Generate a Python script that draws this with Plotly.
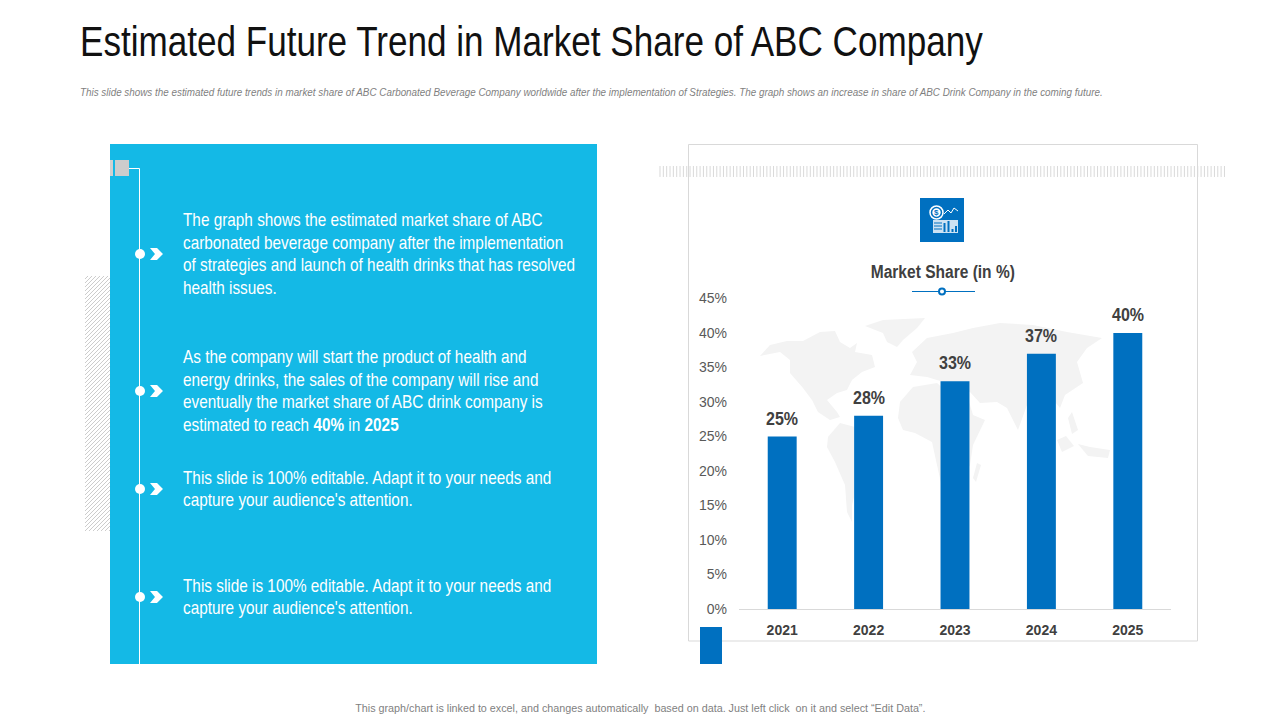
import json
import plotly.graph_objects as go

years = ['2021', '2022', '2023', '2024', '2025']
market_share = [25, 28, 33, 37, 40]
y_ticks = [0, 5, 10, 15, 20, 25, 30, 35, 40, 45]

title_text = 'Estimated Future Trend in Market Share of ABC Company'
subtitle_text = ('This slide shows the estimated future trends in market share of ABC Carbonated Beverage '
                 'Company worldwide after the implementation of Strategies. The graph shows an increase '
                 'in share of ABC Drink Company in the coming future.')
footer_text = ('This graph/chart is linked to excel, and changes automatically\u00a0 based on data. '
               'Just left click\u00a0 on it and select \u201cEdit Data\u201d.')
chart_title = 'Market Share (in %)'
bullets = [
    ['The graph shows the estimated market share of ABC',
     'carbonated beverage company after the implementation',
     'of strategies and launch of health drinks that has resolved',
     'health issues.'],
    ['As the company will start the product of health and',
     'energy drinks, the sales of the company will rise and',
     'eventually the market share of ABC drink company is',
     'estimated to reach <b>40%</b> in <b>2025</b>'],
    ['This slide is 100% editable. Adapt it to your needs and',
     'capture your audience\'s attention.'],
    ['This slide is 100% editable. Adapt it to your needs and',
     'capture your audience\'s attention.'],
]
bullet_y = [254, 391, 489, 597]

FONT = 'Liberation Sans'
CYAN = '#14B9E6'
BLUE = '#0070C0'
W, H = 1280, 720


def px(x):
    return x / W


def py(y):
    return 1 - y / H


def rect(x0, y0, x1, y1, fill, line=None, layer='below'):
    return dict(type='rect', xref='paper', yref='paper', x0=px(x0), y0=py(y0), x1=px(x1), y1=py(y1),
                fillcolor=fill, line=dict(color=line or fill, width=1 if line else 0), layer=layer)


def seg(x0, y0, x1, y1, color, width=1, layer='below'):
    return dict(type='line', xref='paper', yref='paper', x0=px(x0), y0=py(y0), x1=px(x1), y1=py(y1),
                line=dict(color=color, width=width), layer=layer)


def circle(cx, cy, r, fill, line=None, width=0, layer='above'):
    return dict(type='circle', xref='paper', yref='paper', x0=px(cx - r), y0=py(cy + r), x1=px(cx + r), y1=py(cy - r),
                fillcolor=fill, line=dict(color=line or fill, width=width), layer=layer)


def poly(points, fill, line=None, width=0, closed=True, layer='below'):
    d = 'M' + ' L'.join(f'{px(x):.5f},{py(y):.5f}' for x, y in points)
    if closed:
        d += ' Z'
    return dict(type='path', xref='paper', yref='paper', path=d, fillcolor=fill if closed else 'rgba(0,0,0,0)',
                line=dict(color=line or fill, width=width), layer=layer)


def label(x, y, text, size, color, anchor='left'):
    return dict(xref='paper', yref='paper', x=px(x), y=py(y), text=text, showarrow=False,
                xanchor=anchor, yanchor='middle', align=anchor, borderpad=0,
                font=dict(family=FONT, size=size, color=color))


# rough world silhouette behind the bars, outlines in reference pixels
map_outlines = [
    [(760, 356), (770, 345), (787, 341), (803, 341), (820, 332), (835, 331), (840, 342), (850, 348), (857, 343),
     (855, 352), (872, 355), (875, 367), (862, 372), (852, 380), (847, 390), (837, 393), (827, 400), (837, 412),
     (840, 417), (830, 420), (818, 412), (812, 400), (803, 388), (790, 373), (790, 360), (780, 352)],
    [(865, 326), (883, 320), (925, 318), (917, 328), (903, 340), (897, 347), (887, 342), (883, 333)],
    [(828, 437), (840, 423), (855, 427), (875, 440), (872, 453), (865, 470), (857, 485), (852, 505), (852, 522),
     (847, 512), (845, 485), (835, 462), (827, 447)],
    [(898, 418), (900, 402), (913, 387), (937, 383), (947, 392), (967, 395), (973, 415), (985, 420), (973, 445),
     (970, 465), (957, 488), (943, 492), (937, 465), (932, 442), (915, 433), (903, 430)],
    [(977, 463), (981, 465), (976, 482), (973, 478)],
    [(912, 352), (927, 338), (953, 333), (973, 328), (1000, 323), (1033, 325), (1067, 332), (1102, 338), (1087, 348),
     (1077, 362), (1083, 383), (1065, 395), (1060, 408), (1052, 398), (1043, 398), (1027, 405), (1018, 430),
     (1007, 408), (997, 402), (980, 403), (970, 392), (947, 383), (927, 377), (910, 375), (917, 362)],
    [(1057, 440), (1066, 436), (1074, 446), (1062, 452)],
    [(1078, 444), (1090, 447), (1110, 450), (1108, 458), (1088, 456)],
    [(1068, 418), (1072, 412), (1078, 430), (1072, 434)],
]

shapes = []
shapes.append(rect(110, 144, 597, 664, CYAN))
shapes.append(rect(688.5, 144.5, 1197.5, 641, 'white', line='#D9D9D9'))
shapes.append(rect(700, 627, 722, 664, BLUE, layer='above'))

# hatched block left of the panel
hatch = ''
for i in range(-64, 64):
    xa, ya = 85, 531 - i * 4.0
    xb, yb = 110, 506 - i * 4.0
    if ya <= 276 or yb >= 531:
        continue
    if ya > 531:
        xa, ya = 85 + (ya - 531), 531
    if yb < 276:
        xb, yb = 110 - (276 - yb), 276
    hatch += f'M{px(xa):.5f},{py(ya):.5f} L{px(xb):.5f},{py(yb):.5f} '
shapes.append(dict(type='path', xref='paper', yref='paper', path=hatch, line=dict(color='#CCCCCC', width=1), layer='below'))

# striped band across the chart card
stripes = ''
x_pos = 660.0
while x_pos <= 1226:
    stripes += f'M{px(x_pos):.5f},{py(166):.5f} L{px(x_pos):.5f},{py(177):.5f} '
    x_pos += 3.34
shapes.append(dict(type='path', xref='paper', yref='paper', path=stripes, line=dict(color='#D9D9D9', width=1), layer='below'))

for outline in map_outlines:
    shapes.append(poly(outline, '#F3F3F3'))

# timeline on the panel
shapes.append(rect(110, 160, 113, 176, '#D0D0D0', layer='above'))
shapes.append(rect(115, 160, 129, 176, '#CCCCCC', layer='above'))
shapes.append(seg(129, 168.5, 139.5, 168.5, 'white', layer='above'))
shapes.append(seg(139.5, 168.5, 139.5, 664, 'white', layer='above'))
for by in bullet_y:
    shapes.append(circle(140, by, 5, 'white'))
    shapes.append(poly([(150, by - 6), (157, by - 6), (163, by), (157, by + 6), (150, by + 6), (155, by)], 'white', layer='above'))

# icon
shapes.append(rect(920, 198, 964, 242, BLUE, layer='above'))
shapes.append(circle(936.5, 212.5, 6.5, 'rgba(0,0,0,0)', line='white', width=1.5))
shapes.append(circle(936.5, 212.5, 4.2, 'white'))
shapes.append(poly([(944, 214), (948, 210), (951, 213), (954, 208), (958, 211)], 'white', line='white', width=1, closed=False, layer='above'))
shapes.append(rect(933, 220, 958, 233, 'rgba(255,255,255,0.8)', layer='above'))
for ly in [223, 226, 229]:
    shapes.append(seg(934, ly, 942, ly, BLUE, layer='above'))
for bx, btop in [(943.5, 223), (947.5, 221), (951.5, 229), (955, 226)]:
    shapes.append(rect(bx, btop, bx + 2, 232, BLUE, layer='above'))

# title ornament
shapes.append(seg(912, 291.5, 975, 291.5, BLUE, layer='above'))
shapes.append(circle(942, 291.5, 3, 'white', line=BLUE, width=2))

# the source slide uses horizontally squeezed type, squeeze holds the x scale per annotation
annotations = [
    label(79, 41, title_text, 43, '#111111'),
    label(79, 92, f'<i>{subtitle_text}</i>', 11, '#7F7F7F'),
    label(640, 708, footer_text, 11, '#7F7F7F', anchor='center'),
    label(943, 271, f'<b>{chart_title}</b>', 18.5, '#404040', anchor='center'),
    label(936.5, 212.5, '<b>$</b>', 8, BLUE, anchor='center'),
]
squeeze = [0.816, 0.897, 0.98, 0.84, 1]
for lines, by in zip(bullets, bullet_y):
    top = by - 22.6 * (len(lines) - 1) / 2
    for n, line in enumerate(lines):
        annotations.append(label(181.5, top + n * 22.6, line, 18, 'white'))
        squeeze.append(0.852)

# value labels sit above the bars, read from the same data
for i, value in enumerate(market_share):
    annotations.append(dict(x=i, y=value, xref='x', yref='y', text=f'<b>{value}%</b>', showarrow=False,
                            yanchor='bottom', yshift=6, font=dict(family=FONT, size=18, color='#404040')))
    squeeze.append(0.89)

fig = go.Figure()
fig.add_trace(go.Bar(
    x=years,
    y=market_share,
    width=0.335,
    marker=dict(color=BLUE, line=dict(width=0)),
))

fig.update_layout(
    template='none',
    width=W,
    height=H,
    autosize=False,
    margin=dict(l=0, r=0, t=0, b=0),
    paper_bgcolor='white',
    plot_bgcolor='rgba(0,0,0,0)',
    showlegend=False,
    shapes=shapes,
    annotations=annotations,
    xaxis=dict(
        domain=[px(739), px(1171)],
        type='category',
        automargin=False,
        showgrid=False,
        zeroline=False,
        showline=True,
        linecolor='#D9D9D9',
        linewidth=1,
        ticks='',
        ticklabelstandoff=8,
        tickfont=dict(family=FONT, size=14, color='#404040', weight='bold'),
    ),
    yaxis=dict(
        domain=[py(609), py(298.5)],
        range=[0, 45],
        automargin=False,
        tickvals=y_ticks,
        ticktext=[f'{v}%' for v in y_ticks],
        showgrid=False,
        zeroline=False,
        showline=False,
        ticks='',
        ticklabelstandoff=11,
        tickfont=dict(family=FONT, size=14, color='#595959'),
    ),
)

post = """
document.body.style.margin = '0';
var squeeze = %s;
document.querySelectorAll('.annotation').forEach(function (a) {
    var s = squeeze[+a.getAttribute('data-index')];
    var t = a.querySelector('.annotation-text');
    var x = parseFloat(t.getAttribute('x'));
    t.setAttribute('transform', 'translate(' + x * (1 - s) + ',0) scale(' + s + ',1)');
});
""" % json.dumps(squeeze)
fig.write_html("out.html", post_script=post, config=dict(displayModeBar=False))
